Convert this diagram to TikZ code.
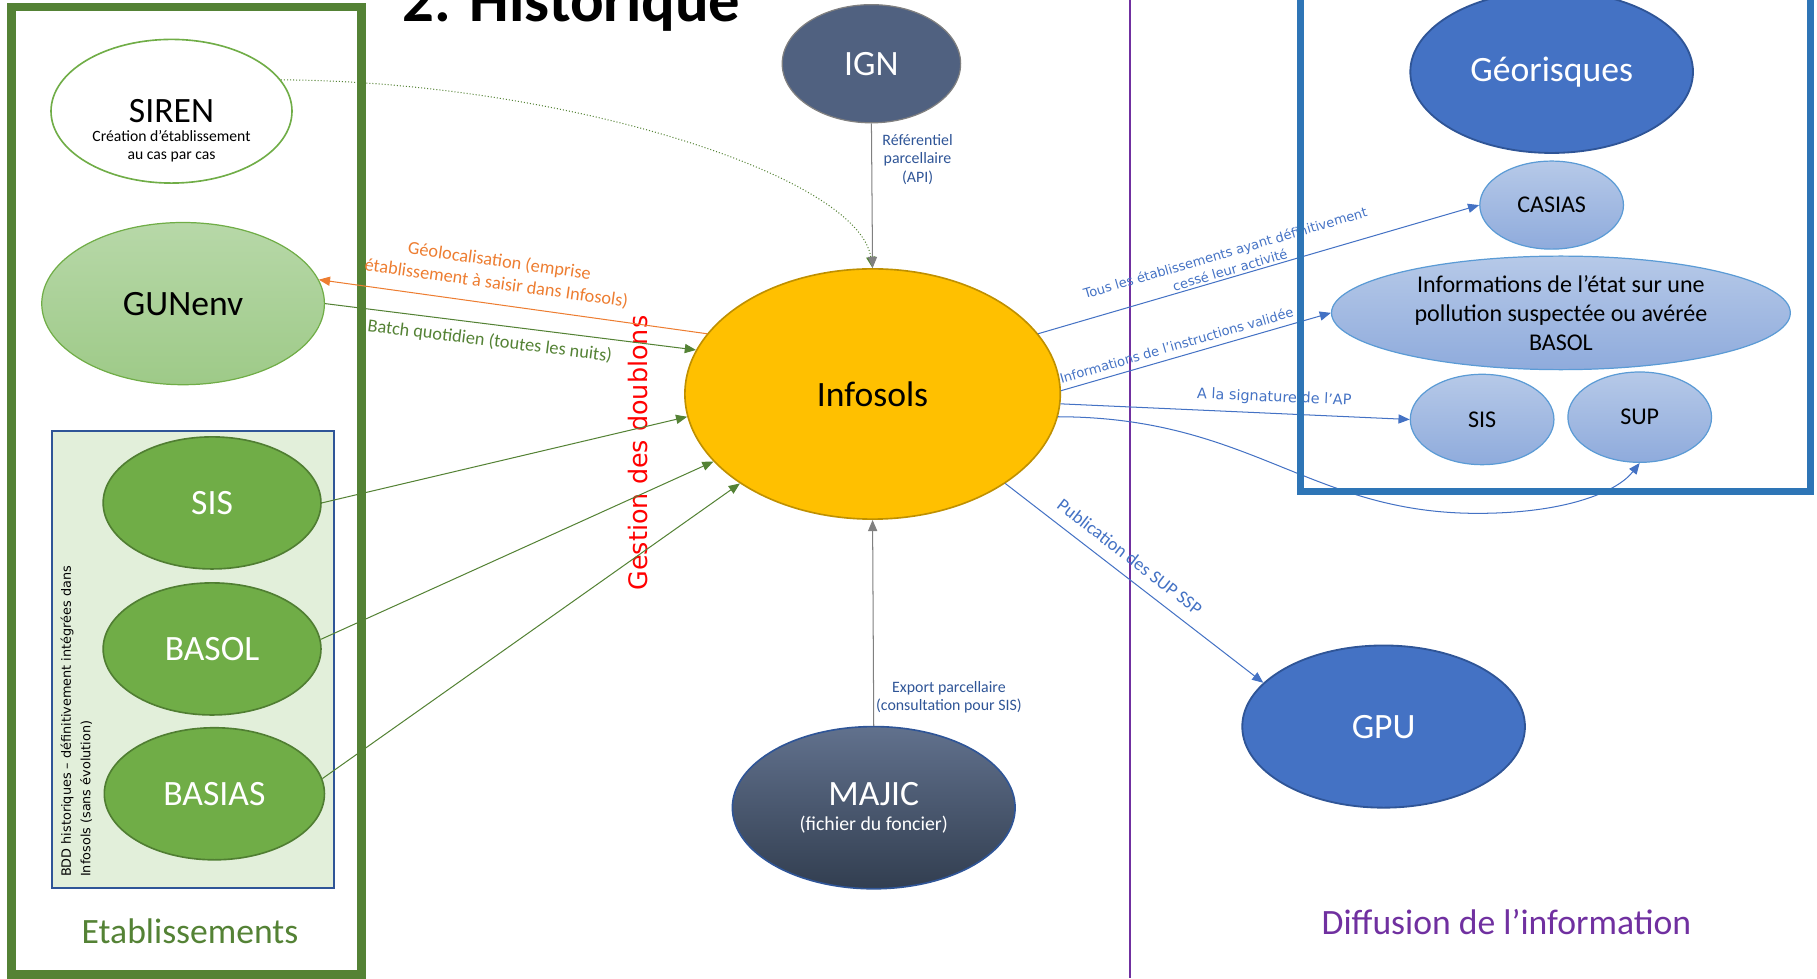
\documentclass[tikz,border=0pt]{standalone}
\usepackage{fontspec}
\setmainfont{Carlito}
\newfontfamily\verdfont{DejaVu Sans}
\usepackage{tikz}
\usetikzlibrary{shapes.geometric, arrows.meta}
\definecolor{etabgreen}{RGB}{84, 130, 53}
\definecolor{leafgreen}{RGB}{112, 173, 71}
\definecolor{darkgreen}{RGB}{80, 126, 50}
\definecolor{palegreen}{RGB}{226, 239, 218}
\definecolor{guntop}{RGB}{183, 216, 168}
\definecolor{gunbottom}{RGB}{158, 202, 136}
\definecolor{infoyellow}{RGB}{255, 192, 0}
\definecolor{infoedge}{RGB}{191, 144, 0}
\definecolor{igngray}{RGB}{80, 97, 128}
\definecolor{majictop}{RGB}{97, 113, 141}
\definecolor{majicbottom}{RGB}{50, 62, 80}
\definecolor{navyedge}{RGB}{47, 85, 151}
\definecolor{georblue}{RGB}{68, 114, 196}
\definecolor{boxblue}{RGB}{46, 117, 182}
\definecolor{skyedge}{RGB}{91, 155, 213}
\definecolor{paletop}{RGB}{182, 201, 232}
\definecolor{palebottom}{RGB}{143, 171, 220}
\definecolor{difpurple}{RGB}{112, 48, 160}
\definecolor{geoorange}{RGB}{237, 125, 49}

\begin{document}
\begin{tikzpicture}[
  x=0.02cm, y=-0.02cm,
  bubble/.style={ellipse, inner sep=0pt, align=center, font=\fontsize{17.5}{21}\selectfont},
  etabbubble/.style={bubble, draw=darkgreen, line width=0.8pt, fill=leafgreen, text=white, minimum width=3.76cm, minimum height=2.28cm},
  bluebubble/.style={bubble, draw=navyedge, line width=0.9pt, fill=georblue, text=white, minimum width=4.88cm, minimum height=2.8cm},
  palebubble/.style={ellipse, inner sep=0pt, align=center, draw=skyedge, line width=0.6pt, top color=paletop, bottom color=palebottom, font=\fontsize{11.8}{14.2}\selectfont, minimum width=2.48cm, minimum height=1.56cm},
  flow/.style={-{Triangle[length=5.5pt,width=4.5pt]}, line width=0.5pt},
  revflow/.style={{Triangle[length=5.5pt,width=4.5pt]}-, line width=0.5pt},
  flowlabel/.style={font=\fontsize{9}{11}\selectfont, align=center, inner sep=1pt},
  smalllabel/.style={font=\verdfont\fontsize{6.4}{8.6}\selectfont, align=center, inner sep=1pt, text=georblue},
]
\clip (0,0) rectangle (1568,844);

% ==================== Title ====================
\node[font=\fontsize{30.8}{36}\selectfont\bfseries, anchor=base] (title) at (493,18.7) {2. Historique};

% ==================== Etablissements ====================
\draw[etabgreen, line width=4.2pt] (9.7,6) rectangle (312,841);
\node[font=\fontsize{17.5}{21}\selectfont, text=etabgreen] (etabtitle) at (164,804) {Etablissements};

\node[bubble, draw=leafgreen, line width=0.8pt, fill=white, minimum width=4.16cm, minimum height=2.48cm] (siren) at (148,96) {};
\node[align=center, inner sep=0pt, font=\fontsize{7.7}{9.2}\selectfont] (sirentext) at (148,113) {{\fontsize{17.5}{21}\selectfont SIREN}\\Création d’établissement\\au cas par cas};
\node[bubble, draw=leafgreen, line width=0.6pt, top color=guntop, bottom color=gunbottom, minimum width=4.88cm, minimum height=2.8cm] (gunenv) at (158,262) {GUNenv};

\draw[navyedge, fill=palegreen, line width=0.9pt] (45,372) rectangle (288,766);
\node[rotate=90, anchor=north west, inner sep=0pt, align=left, font=\verdfont\fontsize{6.3}{9.5}\selectfont] (bddtext) at (52,757) {BDD historiques – définitivement intégrées dans\\Infosols (sans évolution)};
\node[etabbubble] (sis) at (183,434) {SIS};
\node[etabbubble] (basol) at (183,560) {BASOL};
\node[etabbubble, minimum width=3.8cm] (basias) at (185,685) {BASIAS};

% ==================== Infosols ====================
\node[rotate=90, text=red, font=\verdfont\fontsize{12.5}{15}\selectfont] (doublons) at (551,391) {Gestion des doublons};
\node[bubble, draw=gray, line width=0.6pt, fill=igngray, text=white, minimum width=3.08cm, minimum height=2.04cm] (ign) at (752,55) {IGN};
\node[bubble, draw=infoedge, line width=0.8pt, fill=infoyellow, minimum width=6.48cm, minimum height=4.32cm] (infosols) at (753,340) {Infosols};
\node[bubble, draw=navyedge, line width=0.8pt, top color=majictop, bottom color=majicbottom, text=white, minimum width=4.88cm, minimum height=2.8cm, font=\fontsize{9.7}{12.5}\selectfont] (majic) at (754,697) {{\fontsize{17.5}{21}\selectfont MAJIC}\\(fichier du foncier)};

% ==================== Diffusion de l'information ====================
\draw[difpurple, line width=0.8pt] (975,0) -- (975,844);
\node[font=\fontsize{17.5}{21}\selectfont, text=difpurple] (diffusion) at (1300,796) {Diffusion de l’information};
\node[bluebubble] (georisques) at (1339,62) {Géorisques};
\node[palebubble, minimum height=1.52cm] (casias) at (1339,177) {CASIAS};
\node[palebubble, minimum width=7.92cm, minimum height=1.96cm] (etatinfo) at (1347,270) {Informations de l’état sur une\\pollution suspectée ou avérée\\BASOL};
\node[palebubble] (sisdiff) at (1279,362) {SIS};
\node[palebubble] (sup) at (1415,360) {SUP};
\node[bluebubble] (gpu) at (1194,627) {GPU};

% ==================== Connectors ====================
\draw[flow, etabgreen, densely dotted] (siren.16) .. controls (480,70) and (740,150) .. (infosols.north);
\draw[flow, gray] (ign.south) -- (infosols.north)
  node[pos=0.25, right=4pt, inner sep=1pt, align=center, text=navyedge, font=\fontsize{7.8}{9}\selectfont] {Référentiel\\parcellaire\\(API)};
\draw[flow, gray] (majic.north) -- (infosols.south)
  node[pos=0.14, right=0pt, inner sep=1pt, align=center, text=navyedge, font=\fontsize{7.8}{9}\selectfont] {Export parcellaire\\(consultation pour SIS)};

\draw[revflow, geoorange] (gunenv.10) -- (infosols.160)
  node[flowlabel, pos=0.45, sloped, above=5pt, text=geoorange] {Géolocalisation (emprise\\établissement à saisir dans Infosols)};
\draw[flow, etabgreen] (gunenv.east) -- (infosols.166)
  node[flowlabel, pos=0.45, sloped, below=3pt, text=etabgreen] {Batch quotidien (toutes les nuits)};
\draw[flow, etabgreen] (sis.east) -- (infosols.187);
\draw[flow, etabgreen] (basol.5) -- (infosols.203);
\draw[flow, etabgreen] (basias.8) -- (infosols.214);

\draw[flow, georblue] (infosols.20) -- (casias.west)
  node[smalllabel, pos=0.44, sloped, above=0pt] {Tous les établissements ayant définitivement\\cessé leur activité};
\draw[flow, georblue] (infosols.1) -- (etatinfo.west)
  node[smalllabel, pos=0.44, sloped, above=2pt] {Informations de l’instructions validée};
\draw[flow, georblue] (infosols.-3) -- (sisdiff.west)
  node[smalllabel, pos=0.61, sloped, above=3pt, font=\verdfont\fontsize{7.1}{8.6}\selectfont] {A la signature de l’AP};
\draw[flow, georblue] (infosols.-7) .. controls (1080,360) and (1130,443) .. (1275,443) .. controls (1350,443) and (1395,425) .. (sup.south);
\draw[flow, georblue] (infosols.-34) -- (gpu.160)
  node[flowlabel, pos=0.44, sloped, above=4.5pt, text=georblue] {Publication des SUP SSP};

% ==================== Georisques frame ====================
\draw[boxblue, line width=3.4pt] (1122,-10) rectangle (1562,424);

\end{tikzpicture}
\end{document}
